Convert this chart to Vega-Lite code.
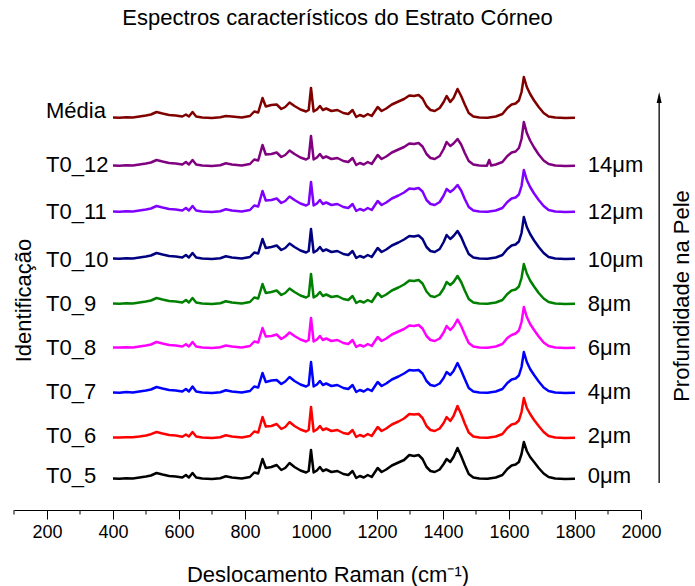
{
"$schema":"https://vega.github.io/schema/vega-lite/v6.json",
"width":627,"height":450,
"autosize":{"type":"none"},
"padding":{"left":14,"right":54,"top":60,"bottom":76},
"background":"white",
"config":{"view":{"stroke":null},"font":"Liberation Sans"},
"title":{"text":"Espectros característicos do Estrato Córneo","fontSize":22,"fontWeight":"normal","font":"Liberation Sans","color":"black","offset":30,"dx":10},
"datasets":{
"labels":[
{"id":"Média","depth":"","y":399},
{"id":"T0_12","depth":"14μm","y":345},
{"id":"T0_11","depth":"12μm","y":298},
{"id":"T0_10","depth":"10μm","y":250},
{"id":"T0_9","depth":"8μm","y":206},
{"id":"T0_8","depth":"6μm","y":162},
{"id":"T0_7","depth":"4μm","y":118},
{"id":"T0_6","depth":"2μm","y":74},
{"id":"T0_5","depth":"0μm","y":34}
],
"minor":[{"x":100},{"x":300},{"x":500},{"x":700},{"x":900},{"x":1100},{"x":1300},{"x":1500},{"x":1700},{"x":1900}],
"spec":[
{"s":"T0_5","x":400,"y":31.5},{"s":"T0_5","x":420,"y":31.3},{"s":"T0_5","x":440,"y":31.8},{"s":"T0_5","x":460,"y":31.5},{"s":"T0_5","x":480,"y":32.5},{"s":"T0_5","x":500,"y":33.5},{"s":"T0_5","x":515,"y":34.5},{"s":"T0_5","x":532,"y":37},{"s":"T0_5","x":550,"y":35.5},{"s":"T0_5","x":570,"y":34},{"s":"T0_5","x":590,"y":33.5},{"s":"T0_5","x":610,"y":32.5},{"s":"T0_5","x":621,"y":35},{"s":"T0_5","x":630,"y":32.5},{"s":"T0_5","x":641,"y":37},{"s":"T0_5","x":652,"y":32.5},{"s":"T0_5","x":670,"y":31.5},{"s":"T0_5","x":700,"y":31},{"s":"T0_5","x":725,"y":31.8},{"s":"T0_5","x":742,"y":33.7},{"s":"T0_5","x":760,"y":32.5},{"s":"T0_5","x":790,"y":31.5},{"s":"T0_5","x":815,"y":33},{"s":"T0_5","x":828,"y":37.5},{"s":"T0_5","x":840,"y":36.5},{"s":"T0_5","x":853,"y":51},{"s":"T0_5","x":863,"y":42},{"s":"T0_5","x":880,"y":43},{"s":"T0_5","x":896,"y":45},{"s":"T0_5","x":910,"y":40},{"s":"T0_5","x":922,"y":42},{"s":"T0_5","x":935,"y":47},{"s":"T0_5","x":950,"y":43},{"s":"T0_5","x":968,"y":39.5},{"s":"T0_5","x":985,"y":37.5},{"s":"T0_5","x":993,"y":39},{"s":"T0_5","x":1000,"y":60},{"s":"T0_5","x":1008,"y":37.5},{"s":"T0_5","x":1018,"y":39.5},{"s":"T0_5","x":1027,"y":43},{"s":"T0_5","x":1036,"y":39},{"s":"T0_5","x":1046,"y":40.5},{"s":"T0_5","x":1062,"y":38},{"s":"T0_5","x":1080,"y":39},{"s":"T0_5","x":1098,"y":36},{"s":"T0_5","x":1113,"y":35},{"s":"T0_5","x":1126,"y":39},{"s":"T0_5","x":1137,"y":32},{"s":"T0_5","x":1148,"y":34},{"s":"T0_5","x":1160,"y":32.5},{"s":"T0_5","x":1172,"y":35},{"s":"T0_5","x":1184,"y":33},{"s":"T0_5","x":1202,"y":42},{"s":"T0_5","x":1214,"y":38},{"s":"T0_5","x":1228,"y":40.5},{"s":"T0_5","x":1245,"y":44.5},{"s":"T0_5","x":1265,"y":47.5},{"s":"T0_5","x":1282,"y":50},{"s":"T0_5","x":1298,"y":55},{"s":"T0_5","x":1312,"y":54},{"s":"T0_5","x":1326,"y":55},{"s":"T0_5","x":1338,"y":51},{"s":"T0_5","x":1350,"y":43},{"s":"T0_5","x":1362,"y":39},{"s":"T0_5","x":1375,"y":38},{"s":"T0_5","x":1390,"y":40.5},{"s":"T0_5","x":1402,"y":46},{"s":"T0_5","x":1411,"y":51},{"s":"T0_5","x":1422,"y":48},{"s":"T0_5","x":1432,"y":53},{"s":"T0_5","x":1444,"y":62},{"s":"T0_5","x":1455,"y":54},{"s":"T0_5","x":1466,"y":45},{"s":"T0_5","x":1478,"y":36},{"s":"T0_5","x":1492,"y":32.5},{"s":"T0_5","x":1510,"y":31.5},{"s":"T0_5","x":1535,"y":31.3},{"s":"T0_5","x":1560,"y":32.5},{"s":"T0_5","x":1580,"y":35},{"s":"T0_5","x":1595,"y":41},{"s":"T0_5","x":1608,"y":44.5},{"s":"T0_5","x":1620,"y":45.5},{"s":"T0_5","x":1630,"y":48},{"s":"T0_5","x":1638,"y":56},{"s":"T0_5","x":1645,"y":68},{"s":"T0_5","x":1654,"y":59},{"s":"T0_5","x":1664,"y":53},{"s":"T0_5","x":1676,"y":48},{"s":"T0_5","x":1690,"y":42},{"s":"T0_5","x":1705,"y":36.5},{"s":"T0_5","x":1720,"y":33},{"s":"T0_5","x":1740,"y":31.5},{"s":"T0_5","x":1770,"y":31},{"s":"T0_5","x":1800,"y":31.3},
{"s":"T0_6","x":400,"y":72.5},{"s":"T0_6","x":420,"y":72.5},{"s":"T0_6","x":440,"y":72.8},{"s":"T0_6","x":460,"y":72.8},{"s":"T0_6","x":480,"y":73.5},{"s":"T0_6","x":500,"y":74.5},{"s":"T0_6","x":515,"y":75.8},{"s":"T0_6","x":532,"y":78},{"s":"T0_6","x":550,"y":76.5},{"s":"T0_6","x":570,"y":75},{"s":"T0_6","x":590,"y":74.5},{"s":"T0_6","x":610,"y":73.3},{"s":"T0_6","x":621,"y":75.5},{"s":"T0_6","x":630,"y":73.5},{"s":"T0_6","x":641,"y":78},{"s":"T0_6","x":652,"y":73.5},{"s":"T0_6","x":670,"y":72.5},{"s":"T0_6","x":700,"y":72},{"s":"T0_6","x":725,"y":72.8},{"s":"T0_6","x":742,"y":74.7},{"s":"T0_6","x":760,"y":73.5},{"s":"T0_6","x":790,"y":72.5},{"s":"T0_6","x":815,"y":74},{"s":"T0_6","x":828,"y":78.5},{"s":"T0_6","x":840,"y":77.5},{"s":"T0_6","x":853,"y":93},{"s":"T0_6","x":863,"y":83.5},{"s":"T0_6","x":880,"y":84},{"s":"T0_6","x":896,"y":86},{"s":"T0_6","x":910,"y":81},{"s":"T0_6","x":922,"y":83},{"s":"T0_6","x":935,"y":88},{"s":"T0_6","x":950,"y":84},{"s":"T0_6","x":968,"y":80.5},{"s":"T0_6","x":985,"y":78.5},{"s":"T0_6","x":993,"y":80},{"s":"T0_6","x":1000,"y":103},{"s":"T0_6","x":1008,"y":78.5},{"s":"T0_6","x":1018,"y":80.5},{"s":"T0_6","x":1027,"y":84},{"s":"T0_6","x":1036,"y":80},{"s":"T0_6","x":1046,"y":81.5},{"s":"T0_6","x":1062,"y":79},{"s":"T0_6","x":1080,"y":80},{"s":"T0_6","x":1098,"y":77},{"s":"T0_6","x":1113,"y":76},{"s":"T0_6","x":1126,"y":80},{"s":"T0_6","x":1137,"y":73},{"s":"T0_6","x":1148,"y":75},{"s":"T0_6","x":1160,"y":73.5},{"s":"T0_6","x":1172,"y":76},{"s":"T0_6","x":1184,"y":74},{"s":"T0_6","x":1202,"y":83},{"s":"T0_6","x":1214,"y":79},{"s":"T0_6","x":1228,"y":81.5},{"s":"T0_6","x":1245,"y":85.5},{"s":"T0_6","x":1265,"y":88.5},{"s":"T0_6","x":1282,"y":91.5},{"s":"T0_6","x":1298,"y":96},{"s":"T0_6","x":1312,"y":95.5},{"s":"T0_6","x":1326,"y":96},{"s":"T0_6","x":1338,"y":92},{"s":"T0_6","x":1350,"y":84},{"s":"T0_6","x":1362,"y":80},{"s":"T0_6","x":1375,"y":79},{"s":"T0_6","x":1390,"y":81.5},{"s":"T0_6","x":1402,"y":87},{"s":"T0_6","x":1411,"y":93},{"s":"T0_6","x":1422,"y":89},{"s":"T0_6","x":1432,"y":94},{"s":"T0_6","x":1444,"y":104},{"s":"T0_6","x":1455,"y":96},{"s":"T0_6","x":1466,"y":86.5},{"s":"T0_6","x":1478,"y":77.5},{"s":"T0_6","x":1492,"y":73.5},{"s":"T0_6","x":1510,"y":72.5},{"s":"T0_6","x":1535,"y":72.3},{"s":"T0_6","x":1560,"y":73.5},{"s":"T0_6","x":1580,"y":76},{"s":"T0_6","x":1595,"y":82},{"s":"T0_6","x":1608,"y":85.5},{"s":"T0_6","x":1620,"y":86.5},{"s":"T0_6","x":1630,"y":89.5},{"s":"T0_6","x":1638,"y":98},{"s":"T0_6","x":1645,"y":112},{"s":"T0_6","x":1654,"y":102},{"s":"T0_6","x":1664,"y":96},{"s":"T0_6","x":1676,"y":90},{"s":"T0_6","x":1690,"y":84},{"s":"T0_6","x":1705,"y":78},{"s":"T0_6","x":1720,"y":74},{"s":"T0_6","x":1740,"y":72.5},{"s":"T0_6","x":1770,"y":72},{"s":"T0_6","x":1800,"y":72.3},
{"s":"T0_7","x":400,"y":117.5},{"s":"T0_7","x":420,"y":117.3},{"s":"T0_7","x":440,"y":118},{"s":"T0_7","x":460,"y":117.5},{"s":"T0_7","x":480,"y":118.5},{"s":"T0_7","x":500,"y":119.5},{"s":"T0_7","x":515,"y":120.5},{"s":"T0_7","x":532,"y":123},{"s":"T0_7","x":550,"y":121.5},{"s":"T0_7","x":570,"y":120},{"s":"T0_7","x":590,"y":119.5},{"s":"T0_7","x":610,"y":118.5},{"s":"T0_7","x":621,"y":121},{"s":"T0_7","x":630,"y":118.5},{"s":"T0_7","x":641,"y":123.5},{"s":"T0_7","x":652,"y":118.5},{"s":"T0_7","x":670,"y":117.5},{"s":"T0_7","x":700,"y":117},{"s":"T0_7","x":725,"y":117.8},{"s":"T0_7","x":742,"y":119.7},{"s":"T0_7","x":760,"y":118.5},{"s":"T0_7","x":790,"y":117.5},{"s":"T0_7","x":815,"y":119},{"s":"T0_7","x":828,"y":123.5},{"s":"T0_7","x":840,"y":122.5},{"s":"T0_7","x":853,"y":137},{"s":"T0_7","x":863,"y":128},{"s":"T0_7","x":880,"y":129.5},{"s":"T0_7","x":896,"y":130},{"s":"T0_7","x":910,"y":126},{"s":"T0_7","x":922,"y":128.5},{"s":"T0_7","x":935,"y":133},{"s":"T0_7","x":950,"y":129},{"s":"T0_7","x":968,"y":125.5},{"s":"T0_7","x":985,"y":123.5},{"s":"T0_7","x":993,"y":125},{"s":"T0_7","x":1000,"y":148},{"s":"T0_7","x":1008,"y":123.5},{"s":"T0_7","x":1018,"y":125.5},{"s":"T0_7","x":1027,"y":129},{"s":"T0_7","x":1036,"y":125},{"s":"T0_7","x":1046,"y":126.5},{"s":"T0_7","x":1062,"y":124},{"s":"T0_7","x":1080,"y":125},{"s":"T0_7","x":1098,"y":122},{"s":"T0_7","x":1113,"y":121},{"s":"T0_7","x":1126,"y":125},{"s":"T0_7","x":1137,"y":118},{"s":"T0_7","x":1148,"y":120},{"s":"T0_7","x":1160,"y":118.5},{"s":"T0_7","x":1172,"y":121},{"s":"T0_7","x":1184,"y":119},{"s":"T0_7","x":1202,"y":128},{"s":"T0_7","x":1214,"y":124},{"s":"T0_7","x":1228,"y":126.5},{"s":"T0_7","x":1245,"y":130.5},{"s":"T0_7","x":1265,"y":133.5},{"s":"T0_7","x":1282,"y":136.5},{"s":"T0_7","x":1298,"y":140},{"s":"T0_7","x":1312,"y":139.5},{"s":"T0_7","x":1326,"y":140},{"s":"T0_7","x":1338,"y":136.5},{"s":"T0_7","x":1350,"y":129},{"s":"T0_7","x":1362,"y":125},{"s":"T0_7","x":1375,"y":124},{"s":"T0_7","x":1390,"y":126.5},{"s":"T0_7","x":1402,"y":132},{"s":"T0_7","x":1411,"y":138},{"s":"T0_7","x":1422,"y":135},{"s":"T0_7","x":1432,"y":139},{"s":"T0_7","x":1444,"y":147},{"s":"T0_7","x":1455,"y":139.5},{"s":"T0_7","x":1466,"y":131},{"s":"T0_7","x":1478,"y":122},{"s":"T0_7","x":1492,"y":118.5},{"s":"T0_7","x":1510,"y":117.5},{"s":"T0_7","x":1535,"y":117.3},{"s":"T0_7","x":1560,"y":118.5},{"s":"T0_7","x":1580,"y":121},{"s":"T0_7","x":1595,"y":127},{"s":"T0_7","x":1608,"y":130.5},{"s":"T0_7","x":1620,"y":131.5},{"s":"T0_7","x":1630,"y":134.5},{"s":"T0_7","x":1638,"y":143},{"s":"T0_7","x":1645,"y":158},{"s":"T0_7","x":1654,"y":148},{"s":"T0_7","x":1664,"y":141},{"s":"T0_7","x":1676,"y":135},{"s":"T0_7","x":1690,"y":128.5},{"s":"T0_7","x":1705,"y":122.5},{"s":"T0_7","x":1720,"y":119},{"s":"T0_7","x":1740,"y":117.5},{"s":"T0_7","x":1770,"y":117},{"s":"T0_7","x":1800,"y":117.3},
{"s":"T0_8","x":400,"y":162.5},{"s":"T0_8","x":420,"y":162.5},{"s":"T0_8","x":440,"y":162.8},{"s":"T0_8","x":460,"y":162.6},{"s":"T0_8","x":480,"y":163.5},{"s":"T0_8","x":500,"y":164.5},{"s":"T0_8","x":515,"y":165.5},{"s":"T0_8","x":532,"y":168},{"s":"T0_8","x":550,"y":166.5},{"s":"T0_8","x":570,"y":165},{"s":"T0_8","x":590,"y":164.5},{"s":"T0_8","x":610,"y":163.5},{"s":"T0_8","x":621,"y":165.8},{"s":"T0_8","x":630,"y":163.5},{"s":"T0_8","x":641,"y":168},{"s":"T0_8","x":652,"y":163.5},{"s":"T0_8","x":670,"y":162.5},{"s":"T0_8","x":700,"y":162},{"s":"T0_8","x":725,"y":162.8},{"s":"T0_8","x":742,"y":164.5},{"s":"T0_8","x":760,"y":163.5},{"s":"T0_8","x":790,"y":162.5},{"s":"T0_8","x":815,"y":164},{"s":"T0_8","x":828,"y":168.5},{"s":"T0_8","x":840,"y":167.5},{"s":"T0_8","x":853,"y":182},{"s":"T0_8","x":863,"y":173.5},{"s":"T0_8","x":880,"y":174},{"s":"T0_8","x":896,"y":175.5},{"s":"T0_8","x":910,"y":171},{"s":"T0_8","x":922,"y":173.5},{"s":"T0_8","x":935,"y":177.5},{"s":"T0_8","x":950,"y":174},{"s":"T0_8","x":968,"y":170.5},{"s":"T0_8","x":985,"y":168.5},{"s":"T0_8","x":993,"y":170},{"s":"T0_8","x":1000,"y":192},{"s":"T0_8","x":1008,"y":168.5},{"s":"T0_8","x":1018,"y":170.5},{"s":"T0_8","x":1027,"y":174},{"s":"T0_8","x":1036,"y":170},{"s":"T0_8","x":1046,"y":171.5},{"s":"T0_8","x":1062,"y":169},{"s":"T0_8","x":1080,"y":170},{"s":"T0_8","x":1098,"y":167},{"s":"T0_8","x":1113,"y":166},{"s":"T0_8","x":1126,"y":170},{"s":"T0_8","x":1137,"y":163},{"s":"T0_8","x":1148,"y":165},{"s":"T0_8","x":1160,"y":163.5},{"s":"T0_8","x":1172,"y":166},{"s":"T0_8","x":1184,"y":164},{"s":"T0_8","x":1202,"y":173},{"s":"T0_8","x":1214,"y":169},{"s":"T0_8","x":1228,"y":171.5},{"s":"T0_8","x":1245,"y":175.5},{"s":"T0_8","x":1265,"y":178.5},{"s":"T0_8","x":1282,"y":181},{"s":"T0_8","x":1298,"y":184.5},{"s":"T0_8","x":1312,"y":184},{"s":"T0_8","x":1326,"y":185},{"s":"T0_8","x":1338,"y":181.5},{"s":"T0_8","x":1350,"y":174},{"s":"T0_8","x":1362,"y":170},{"s":"T0_8","x":1375,"y":169},{"s":"T0_8","x":1390,"y":171.5},{"s":"T0_8","x":1402,"y":177.5},{"s":"T0_8","x":1411,"y":184},{"s":"T0_8","x":1422,"y":180},{"s":"T0_8","x":1432,"y":183.5},{"s":"T0_8","x":1444,"y":190.5},{"s":"T0_8","x":1455,"y":184},{"s":"T0_8","x":1466,"y":175.5},{"s":"T0_8","x":1478,"y":167},{"s":"T0_8","x":1492,"y":163.5},{"s":"T0_8","x":1510,"y":162.5},{"s":"T0_8","x":1535,"y":162.3},{"s":"T0_8","x":1560,"y":163.5},{"s":"T0_8","x":1580,"y":166},{"s":"T0_8","x":1595,"y":172},{"s":"T0_8","x":1608,"y":175},{"s":"T0_8","x":1620,"y":176.5},{"s":"T0_8","x":1630,"y":179.5},{"s":"T0_8","x":1638,"y":188},{"s":"T0_8","x":1645,"y":203},{"s":"T0_8","x":1654,"y":193},{"s":"T0_8","x":1664,"y":186},{"s":"T0_8","x":1676,"y":180},{"s":"T0_8","x":1690,"y":173.5},{"s":"T0_8","x":1705,"y":167.5},{"s":"T0_8","x":1720,"y":164},{"s":"T0_8","x":1740,"y":162.5},{"s":"T0_8","x":1770,"y":162},{"s":"T0_8","x":1800,"y":162.3},
{"s":"T0_9","x":400,"y":206.5},{"s":"T0_9","x":420,"y":206.3},{"s":"T0_9","x":440,"y":206.8},{"s":"T0_9","x":460,"y":206.5},{"s":"T0_9","x":480,"y":207.5},{"s":"T0_9","x":500,"y":208.5},{"s":"T0_9","x":515,"y":209.5},{"s":"T0_9","x":532,"y":212},{"s":"T0_9","x":550,"y":210.5},{"s":"T0_9","x":570,"y":209},{"s":"T0_9","x":590,"y":208.5},{"s":"T0_9","x":610,"y":207.5},{"s":"T0_9","x":621,"y":210},{"s":"T0_9","x":630,"y":207.5},{"s":"T0_9","x":641,"y":212},{"s":"T0_9","x":652,"y":207.5},{"s":"T0_9","x":670,"y":206.5},{"s":"T0_9","x":700,"y":206},{"s":"T0_9","x":725,"y":206.8},{"s":"T0_9","x":742,"y":208.7},{"s":"T0_9","x":760,"y":207.5},{"s":"T0_9","x":790,"y":206.5},{"s":"T0_9","x":815,"y":208},{"s":"T0_9","x":828,"y":212.5},{"s":"T0_9","x":840,"y":211.5},{"s":"T0_9","x":853,"y":226},{"s":"T0_9","x":863,"y":217},{"s":"T0_9","x":880,"y":218},{"s":"T0_9","x":896,"y":219.5},{"s":"T0_9","x":910,"y":215},{"s":"T0_9","x":922,"y":217},{"s":"T0_9","x":935,"y":221.5},{"s":"T0_9","x":950,"y":218},{"s":"T0_9","x":968,"y":214.5},{"s":"T0_9","x":985,"y":212.5},{"s":"T0_9","x":993,"y":214},{"s":"T0_9","x":1000,"y":236},{"s":"T0_9","x":1008,"y":212.5},{"s":"T0_9","x":1018,"y":214.5},{"s":"T0_9","x":1027,"y":218},{"s":"T0_9","x":1036,"y":214},{"s":"T0_9","x":1046,"y":215.5},{"s":"T0_9","x":1062,"y":213},{"s":"T0_9","x":1080,"y":214},{"s":"T0_9","x":1098,"y":211},{"s":"T0_9","x":1113,"y":210},{"s":"T0_9","x":1126,"y":214},{"s":"T0_9","x":1137,"y":207},{"s":"T0_9","x":1148,"y":209},{"s":"T0_9","x":1160,"y":207.5},{"s":"T0_9","x":1172,"y":210},{"s":"T0_9","x":1184,"y":208},{"s":"T0_9","x":1202,"y":217},{"s":"T0_9","x":1214,"y":213},{"s":"T0_9","x":1228,"y":215.5},{"s":"T0_9","x":1245,"y":219.5},{"s":"T0_9","x":1265,"y":222.5},{"s":"T0_9","x":1282,"y":225.5},{"s":"T0_9","x":1298,"y":229.5},{"s":"T0_9","x":1312,"y":229},{"s":"T0_9","x":1326,"y":230},{"s":"T0_9","x":1338,"y":226.5},{"s":"T0_9","x":1350,"y":218.5},{"s":"T0_9","x":1362,"y":214},{"s":"T0_9","x":1375,"y":213},{"s":"T0_9","x":1390,"y":215.5},{"s":"T0_9","x":1402,"y":221.5},{"s":"T0_9","x":1411,"y":228},{"s":"T0_9","x":1422,"y":225},{"s":"T0_9","x":1432,"y":228},{"s":"T0_9","x":1444,"y":234},{"s":"T0_9","x":1455,"y":228},{"s":"T0_9","x":1466,"y":219.5},{"s":"T0_9","x":1478,"y":211},{"s":"T0_9","x":1492,"y":207.5},{"s":"T0_9","x":1510,"y":206.5},{"s":"T0_9","x":1535,"y":206.3},{"s":"T0_9","x":1560,"y":207.5},{"s":"T0_9","x":1580,"y":210},{"s":"T0_9","x":1595,"y":216},{"s":"T0_9","x":1608,"y":219.5},{"s":"T0_9","x":1620,"y":220.5},{"s":"T0_9","x":1630,"y":223.5},{"s":"T0_9","x":1638,"y":232},{"s":"T0_9","x":1645,"y":246},{"s":"T0_9","x":1654,"y":236.5},{"s":"T0_9","x":1664,"y":229.5},{"s":"T0_9","x":1676,"y":223.5},{"s":"T0_9","x":1690,"y":217},{"s":"T0_9","x":1705,"y":211.5},{"s":"T0_9","x":1720,"y":208},{"s":"T0_9","x":1740,"y":206.5},{"s":"T0_9","x":1770,"y":206},{"s":"T0_9","x":1800,"y":206.3},
{"s":"T0_10","x":400,"y":251.5},{"s":"T0_10","x":420,"y":251.3},{"s":"T0_10","x":440,"y":251.8},{"s":"T0_10","x":460,"y":251.5},{"s":"T0_10","x":480,"y":252.5},{"s":"T0_10","x":500,"y":253.5},{"s":"T0_10","x":515,"y":254.5},{"s":"T0_10","x":532,"y":257},{"s":"T0_10","x":550,"y":255.5},{"s":"T0_10","x":570,"y":254},{"s":"T0_10","x":590,"y":253.5},{"s":"T0_10","x":610,"y":252.5},{"s":"T0_10","x":621,"y":255},{"s":"T0_10","x":630,"y":252.5},{"s":"T0_10","x":641,"y":257},{"s":"T0_10","x":652,"y":252.5},{"s":"T0_10","x":670,"y":251.5},{"s":"T0_10","x":700,"y":251},{"s":"T0_10","x":725,"y":251.8},{"s":"T0_10","x":742,"y":253.7},{"s":"T0_10","x":760,"y":252.5},{"s":"T0_10","x":790,"y":251.5},{"s":"T0_10","x":815,"y":253},{"s":"T0_10","x":828,"y":257.5},{"s":"T0_10","x":840,"y":256.5},{"s":"T0_10","x":853,"y":271},{"s":"T0_10","x":863,"y":262},{"s":"T0_10","x":880,"y":263},{"s":"T0_10","x":896,"y":264.5},{"s":"T0_10","x":910,"y":260},{"s":"T0_10","x":922,"y":262},{"s":"T0_10","x":935,"y":266.5},{"s":"T0_10","x":950,"y":263},{"s":"T0_10","x":968,"y":259.5},{"s":"T0_10","x":985,"y":257.5},{"s":"T0_10","x":993,"y":259},{"s":"T0_10","x":1000,"y":281},{"s":"T0_10","x":1008,"y":257.5},{"s":"T0_10","x":1018,"y":259.5},{"s":"T0_10","x":1027,"y":263},{"s":"T0_10","x":1036,"y":259},{"s":"T0_10","x":1046,"y":260.5},{"s":"T0_10","x":1062,"y":258},{"s":"T0_10","x":1080,"y":259},{"s":"T0_10","x":1098,"y":256},{"s":"T0_10","x":1113,"y":255},{"s":"T0_10","x":1126,"y":259},{"s":"T0_10","x":1137,"y":252},{"s":"T0_10","x":1148,"y":254},{"s":"T0_10","x":1160,"y":252.5},{"s":"T0_10","x":1172,"y":255},{"s":"T0_10","x":1184,"y":253},{"s":"T0_10","x":1202,"y":262},{"s":"T0_10","x":1214,"y":258},{"s":"T0_10","x":1228,"y":260.5},{"s":"T0_10","x":1245,"y":264.5},{"s":"T0_10","x":1265,"y":267.5},{"s":"T0_10","x":1282,"y":270.5},{"s":"T0_10","x":1298,"y":274},{"s":"T0_10","x":1312,"y":273.5},{"s":"T0_10","x":1326,"y":274.5},{"s":"T0_10","x":1338,"y":271},{"s":"T0_10","x":1350,"y":263},{"s":"T0_10","x":1362,"y":259},{"s":"T0_10","x":1375,"y":258},{"s":"T0_10","x":1390,"y":261},{"s":"T0_10","x":1402,"y":268},{"s":"T0_10","x":1411,"y":275},{"s":"T0_10","x":1422,"y":271},{"s":"T0_10","x":1432,"y":274},{"s":"T0_10","x":1444,"y":279},{"s":"T0_10","x":1455,"y":273},{"s":"T0_10","x":1466,"y":264.5},{"s":"T0_10","x":1478,"y":256},{"s":"T0_10","x":1492,"y":252.5},{"s":"T0_10","x":1510,"y":251.5},{"s":"T0_10","x":1535,"y":251.3},{"s":"T0_10","x":1560,"y":252.5},{"s":"T0_10","x":1580,"y":255},{"s":"T0_10","x":1595,"y":261},{"s":"T0_10","x":1608,"y":264.5},{"s":"T0_10","x":1620,"y":265.5},{"s":"T0_10","x":1630,"y":268.5},{"s":"T0_10","x":1638,"y":277},{"s":"T0_10","x":1645,"y":293},{"s":"T0_10","x":1654,"y":283},{"s":"T0_10","x":1664,"y":276},{"s":"T0_10","x":1676,"y":269.5},{"s":"T0_10","x":1690,"y":263},{"s":"T0_10","x":1705,"y":257},{"s":"T0_10","x":1720,"y":253},{"s":"T0_10","x":1740,"y":251.5},{"s":"T0_10","x":1770,"y":251},{"s":"T0_10","x":1800,"y":251.3},
{"s":"T0_11","x":400,"y":298.5},{"s":"T0_11","x":420,"y":298.3},{"s":"T0_11","x":440,"y":298.8},{"s":"T0_11","x":460,"y":298.5},{"s":"T0_11","x":480,"y":299.5},{"s":"T0_11","x":500,"y":300.5},{"s":"T0_11","x":515,"y":301.5},{"s":"T0_11","x":532,"y":304},{"s":"T0_11","x":550,"y":302.5},{"s":"T0_11","x":570,"y":301},{"s":"T0_11","x":590,"y":300.5},{"s":"T0_11","x":610,"y":299.5},{"s":"T0_11","x":621,"y":302},{"s":"T0_11","x":630,"y":299.5},{"s":"T0_11","x":641,"y":304},{"s":"T0_11","x":652,"y":299.5},{"s":"T0_11","x":670,"y":298.5},{"s":"T0_11","x":700,"y":298},{"s":"T0_11","x":725,"y":298.8},{"s":"T0_11","x":742,"y":300.7},{"s":"T0_11","x":760,"y":299.5},{"s":"T0_11","x":790,"y":298.5},{"s":"T0_11","x":815,"y":300},{"s":"T0_11","x":828,"y":304.5},{"s":"T0_11","x":840,"y":303.5},{"s":"T0_11","x":853,"y":319},{"s":"T0_11","x":863,"y":309.5},{"s":"T0_11","x":880,"y":310},{"s":"T0_11","x":896,"y":311.5},{"s":"T0_11","x":910,"y":307},{"s":"T0_11","x":922,"y":309},{"s":"T0_11","x":935,"y":313.5},{"s":"T0_11","x":950,"y":310},{"s":"T0_11","x":968,"y":306.5},{"s":"T0_11","x":985,"y":304.5},{"s":"T0_11","x":993,"y":306},{"s":"T0_11","x":1000,"y":328},{"s":"T0_11","x":1008,"y":304.5},{"s":"T0_11","x":1018,"y":306.5},{"s":"T0_11","x":1027,"y":310},{"s":"T0_11","x":1036,"y":306},{"s":"T0_11","x":1046,"y":307.5},{"s":"T0_11","x":1062,"y":305},{"s":"T0_11","x":1080,"y":306},{"s":"T0_11","x":1098,"y":303},{"s":"T0_11","x":1113,"y":302},{"s":"T0_11","x":1126,"y":306},{"s":"T0_11","x":1137,"y":299},{"s":"T0_11","x":1148,"y":301},{"s":"T0_11","x":1160,"y":299.5},{"s":"T0_11","x":1172,"y":302},{"s":"T0_11","x":1184,"y":300},{"s":"T0_11","x":1202,"y":309},{"s":"T0_11","x":1214,"y":305},{"s":"T0_11","x":1228,"y":307.5},{"s":"T0_11","x":1245,"y":311.5},{"s":"T0_11","x":1265,"y":314.5},{"s":"T0_11","x":1282,"y":317.5},{"s":"T0_11","x":1298,"y":321.5},{"s":"T0_11","x":1312,"y":321},{"s":"T0_11","x":1326,"y":322},{"s":"T0_11","x":1338,"y":318.5},{"s":"T0_11","x":1350,"y":310},{"s":"T0_11","x":1362,"y":306},{"s":"T0_11","x":1375,"y":305},{"s":"T0_11","x":1390,"y":308},{"s":"T0_11","x":1402,"y":314.5},{"s":"T0_11","x":1411,"y":321},{"s":"T0_11","x":1422,"y":318},{"s":"T0_11","x":1432,"y":320.5},{"s":"T0_11","x":1444,"y":325},{"s":"T0_11","x":1455,"y":319.5},{"s":"T0_11","x":1466,"y":311},{"s":"T0_11","x":1478,"y":303},{"s":"T0_11","x":1492,"y":299.5},{"s":"T0_11","x":1510,"y":298.5},{"s":"T0_11","x":1535,"y":298.3},{"s":"T0_11","x":1560,"y":299.5},{"s":"T0_11","x":1580,"y":302},{"s":"T0_11","x":1595,"y":308},{"s":"T0_11","x":1608,"y":311.5},{"s":"T0_11","x":1620,"y":312.5},{"s":"T0_11","x":1630,"y":315.5},{"s":"T0_11","x":1638,"y":324},{"s":"T0_11","x":1645,"y":340},{"s":"T0_11","x":1654,"y":330},{"s":"T0_11","x":1664,"y":323},{"s":"T0_11","x":1676,"y":316.5},{"s":"T0_11","x":1690,"y":310},{"s":"T0_11","x":1705,"y":304},{"s":"T0_11","x":1720,"y":300},{"s":"T0_11","x":1740,"y":298.5},{"s":"T0_11","x":1770,"y":298},{"s":"T0_11","x":1800,"y":298.3},
{"s":"T0_12","x":400,"y":344.5},{"s":"T0_12","x":420,"y":344.3},{"s":"T0_12","x":440,"y":344.8},{"s":"T0_12","x":460,"y":344.5},{"s":"T0_12","x":480,"y":345.5},{"s":"T0_12","x":500,"y":346.5},{"s":"T0_12","x":515,"y":347.5},{"s":"T0_12","x":532,"y":350},{"s":"T0_12","x":550,"y":348.5},{"s":"T0_12","x":570,"y":347},{"s":"T0_12","x":590,"y":346.5},{"s":"T0_12","x":610,"y":345.5},{"s":"T0_12","x":621,"y":348},{"s":"T0_12","x":630,"y":345.5},{"s":"T0_12","x":641,"y":350},{"s":"T0_12","x":652,"y":345.5},{"s":"T0_12","x":670,"y":344.5},{"s":"T0_12","x":700,"y":344},{"s":"T0_12","x":725,"y":344.8},{"s":"T0_12","x":742,"y":346.7},{"s":"T0_12","x":760,"y":345.5},{"s":"T0_12","x":790,"y":344.5},{"s":"T0_12","x":815,"y":346},{"s":"T0_12","x":828,"y":350.5},{"s":"T0_12","x":840,"y":349.5},{"s":"T0_12","x":853,"y":365},{"s":"T0_12","x":863,"y":355.5},{"s":"T0_12","x":880,"y":356},{"s":"T0_12","x":896,"y":357.5},{"s":"T0_12","x":910,"y":353},{"s":"T0_12","x":922,"y":355},{"s":"T0_12","x":935,"y":359.5},{"s":"T0_12","x":950,"y":356},{"s":"T0_12","x":968,"y":352.5},{"s":"T0_12","x":985,"y":350.5},{"s":"T0_12","x":993,"y":352},{"s":"T0_12","x":1000,"y":374},{"s":"T0_12","x":1008,"y":350.5},{"s":"T0_12","x":1018,"y":352.5},{"s":"T0_12","x":1027,"y":356},{"s":"T0_12","x":1036,"y":352},{"s":"T0_12","x":1046,"y":353.5},{"s":"T0_12","x":1062,"y":351},{"s":"T0_12","x":1080,"y":352},{"s":"T0_12","x":1098,"y":349},{"s":"T0_12","x":1113,"y":348},{"s":"T0_12","x":1126,"y":352},{"s":"T0_12","x":1137,"y":345},{"s":"T0_12","x":1148,"y":347},{"s":"T0_12","x":1160,"y":345.5},{"s":"T0_12","x":1172,"y":348},{"s":"T0_12","x":1184,"y":346},{"s":"T0_12","x":1202,"y":355},{"s":"T0_12","x":1214,"y":351},{"s":"T0_12","x":1228,"y":353.5},{"s":"T0_12","x":1245,"y":357.5},{"s":"T0_12","x":1265,"y":360.5},{"s":"T0_12","x":1282,"y":363},{"s":"T0_12","x":1298,"y":366.5},{"s":"T0_12","x":1312,"y":366},{"s":"T0_12","x":1326,"y":367},{"s":"T0_12","x":1338,"y":363.5},{"s":"T0_12","x":1350,"y":356},{"s":"T0_12","x":1362,"y":352},{"s":"T0_12","x":1375,"y":351},{"s":"T0_12","x":1390,"y":354},{"s":"T0_12","x":1402,"y":361},{"s":"T0_12","x":1411,"y":368},{"s":"T0_12","x":1422,"y":364},{"s":"T0_12","x":1432,"y":366.5},{"s":"T0_12","x":1444,"y":371},{"s":"T0_12","x":1455,"y":365.5},{"s":"T0_12","x":1466,"y":357},{"s":"T0_12","x":1478,"y":349},{"s":"T0_12","x":1492,"y":345.5},{"s":"T0_12","x":1510,"y":344.5},{"s":"T0_12","x":1533,"y":344.3},{"s":"T0_12","x":1540,"y":350},{"s":"T0_12","x":1546,"y":344.5},{"s":"T0_12","x":1560,"y":345.5},{"s":"T0_12","x":1580,"y":348},{"s":"T0_12","x":1595,"y":354},{"s":"T0_12","x":1608,"y":357.5},{"s":"T0_12","x":1620,"y":358.5},{"s":"T0_12","x":1630,"y":362},{"s":"T0_12","x":1638,"y":371},{"s":"T0_12","x":1645,"y":388},{"s":"T0_12","x":1654,"y":377},{"s":"T0_12","x":1664,"y":369.5},{"s":"T0_12","x":1676,"y":362.5},{"s":"T0_12","x":1690,"y":355.5},{"s":"T0_12","x":1705,"y":349.5},{"s":"T0_12","x":1720,"y":346},{"s":"T0_12","x":1740,"y":344.5},{"s":"T0_12","x":1770,"y":344},{"s":"T0_12","x":1800,"y":344.3},
{"s":"Média","x":400,"y":392.5},{"s":"Média","x":420,"y":392.3},{"s":"Média","x":440,"y":392.8},{"s":"Média","x":460,"y":392.5},{"s":"Média","x":480,"y":393.5},{"s":"Média","x":500,"y":394.5},{"s":"Média","x":515,"y":395.5},{"s":"Média","x":532,"y":398},{"s":"Média","x":550,"y":396.5},{"s":"Média","x":570,"y":395},{"s":"Média","x":590,"y":394.5},{"s":"Média","x":610,"y":393.5},{"s":"Média","x":621,"y":395.5},{"s":"Média","x":630,"y":393.5},{"s":"Média","x":641,"y":398},{"s":"Média","x":652,"y":393.5},{"s":"Média","x":670,"y":392.5},{"s":"Média","x":700,"y":392},{"s":"Média","x":725,"y":392.8},{"s":"Média","x":742,"y":394},{"s":"Média","x":760,"y":393.5},{"s":"Média","x":790,"y":392.5},{"s":"Média","x":815,"y":394},{"s":"Média","x":828,"y":398.5},{"s":"Média","x":840,"y":397.5},{"s":"Média","x":853,"y":412},{"s":"Média","x":863,"y":403.5},{"s":"Média","x":880,"y":405},{"s":"Média","x":896,"y":405.5},{"s":"Média","x":910,"y":401},{"s":"Média","x":922,"y":403},{"s":"Média","x":935,"y":407.5},{"s":"Média","x":950,"y":404},{"s":"Média","x":968,"y":400.5},{"s":"Média","x":985,"y":398.5},{"s":"Média","x":993,"y":400},{"s":"Média","x":1000,"y":422},{"s":"Média","x":1008,"y":398.5},{"s":"Média","x":1018,"y":400.5},{"s":"Média","x":1027,"y":404},{"s":"Média","x":1036,"y":400},{"s":"Média","x":1046,"y":401.5},{"s":"Média","x":1062,"y":399},{"s":"Média","x":1080,"y":400},{"s":"Média","x":1098,"y":397},{"s":"Média","x":1113,"y":396},{"s":"Média","x":1126,"y":400},{"s":"Média","x":1137,"y":393},{"s":"Média","x":1148,"y":395},{"s":"Média","x":1160,"y":393.5},{"s":"Média","x":1172,"y":396},{"s":"Média","x":1184,"y":394},{"s":"Média","x":1202,"y":403},{"s":"Média","x":1214,"y":399},{"s":"Média","x":1228,"y":401.5},{"s":"Média","x":1245,"y":405.5},{"s":"Média","x":1265,"y":408.5},{"s":"Média","x":1282,"y":411},{"s":"Média","x":1298,"y":414.5},{"s":"Média","x":1312,"y":414},{"s":"Média","x":1326,"y":415},{"s":"Média","x":1338,"y":411.5},{"s":"Média","x":1350,"y":404},{"s":"Média","x":1362,"y":400},{"s":"Média","x":1375,"y":399},{"s":"Média","x":1390,"y":402},{"s":"Média","x":1402,"y":408},{"s":"Média","x":1411,"y":414},{"s":"Média","x":1422,"y":408},{"s":"Média","x":1432,"y":412},{"s":"Média","x":1444,"y":421},{"s":"Média","x":1455,"y":414},{"s":"Média","x":1466,"y":405.5},{"s":"Média","x":1478,"y":397},{"s":"Média","x":1492,"y":393.5},{"s":"Média","x":1510,"y":392.5},{"s":"Média","x":1535,"y":392.3},{"s":"Média","x":1560,"y":393.5},{"s":"Média","x":1580,"y":396},{"s":"Média","x":1595,"y":402},{"s":"Média","x":1608,"y":405.5},{"s":"Média","x":1620,"y":406.5},{"s":"Média","x":1630,"y":409.5},{"s":"Média","x":1638,"y":418},{"s":"Média","x":1645,"y":433},{"s":"Média","x":1654,"y":423},{"s":"Média","x":1664,"y":416},{"s":"Média","x":1676,"y":409.5},{"s":"Média","x":1690,"y":403},{"s":"Média","x":1705,"y":397},{"s":"Média","x":1720,"y":393.5},{"s":"Média","x":1740,"y":392.5},{"s":"Média","x":1770,"y":392},{"s":"Média","x":1800,"y":392.3}
]},
"layer":[
{"data":{"name":"spec"},
"mark":{"type":"line","strokeWidth":2.5,"strokeJoin":"round","clip":false},
"encoding":{
"x":{"field":"x","type":"quantitative","scale":{"domain":[100,2000],"nice":false,"zero":false},
"axis":{"title":"Deslocamento Raman (cm⁻¹)","titleFont":"Liberation Sans","titleFontSize":22,"titleFontWeight":"normal","titleColor":"black","titleY":64,"titleBaseline":"middle",
"values":[200,400,600,800,1000,1200,1400,1600,1800,2000],
"format":"d","labelFont":"Liberation Sans","labelFontSize":18,"labelColor":"black","labelPadding":4,"labelFlush":false,"labelOverlap":false,
"grid":false,"domainColor":"black","domainWidth":1,"tickColor":"black","tickWidth":1,"tickSize":9}},
"y":{"field":"y","type":"quantitative","scale":{"domain":[0,450],"nice":false,"zero":false},
"axis":{"title":"Identificação","titleFont":"Liberation Sans","titleFontSize":22,"titleFontWeight":"normal","titleColor":"black","domain":false,"ticks":false,"labels":false,"grid":false,"titleX":21,"titleY":240,"titleAlign":"center","titleBaseline":"bottom","titleAngle":-90}},
"color":{"field":"s","type":"nominal","legend":null,"scale":{"domain":["Média","T0_12","T0_11","T0_10","T0_9","T0_8","T0_7","T0_6","T0_5"],"range":["#800000","#800080","#8000ff","#000080","#008000","#ff00ff","#0000ff","#ff0000","#000000"]}}
}},
{"data":{"name":"minor"},
"mark":{"type":"rule","color":"black","strokeWidth":1,"clip":false},
"encoding":{"x":{"field":"x","type":"quantitative"},"y":{"datum":0},"y2":{"datum":-4.5}}},
{"data":{"name":"labels"},
"mark":{"type":"text","align":"left","baseline":"middle","font":"Liberation Sans","fontSize":22,"color":"black"},
"encoding":{"x":{"datum":197},"y":{"field":"y","type":"quantitative"},"text":{"field":"id"}}},
{"data":{"name":"labels"},
"mark":{"type":"text","align":"left","baseline":"middle","font":"Liberation Sans","fontSize":22,"color":"black","clip":false},
"encoding":{"x":{"datum":1839},"y":{"field":"y","type":"quantitative"},"text":{"field":"depth"}}},
{"data":{"values":[{}]},
"mark":{"type":"rule","color":"black","strokeWidth":1.3,"clip":false},
"encoding":{"x":{"datum":2055},"y":{"datum":27},"y2":{"datum":409}}},
{"data":{"values":[{}]},
"mark":{"type":"point","shape":"M0,-2.2L0.5,0L-0.5,0Z","size":100,"filled":true,"color":"black","opacity":1,"clip":false},
"encoding":{"x":{"datum":2055},"y":{"datum":407}}},
{"data":{"values":[{"t":"Profundidade na Pele"}]},
"mark":{"type":"text","angle":270,"align":"center","baseline":"middle","font":"Liberation Sans","fontSize":22,"color":"black","clip":false},
"encoding":{"x":{"datum":2124},"y":{"datum":214},"text":{"field":"t"}}}
]
}
